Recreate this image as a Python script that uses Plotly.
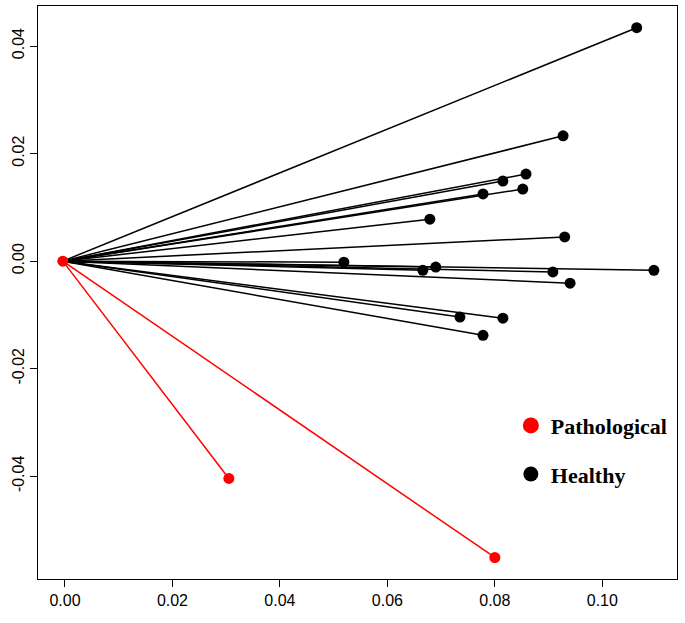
import plotly.graph_objects as go

# Origin (common start point of all segments)
origin_x = -0.0004
origin_y = 0.0

# Healthy endpoints
healthy_x = [0.1064, 0.0927, 0.0858, 0.0815, 0.0852, 0.0778, 0.0679, 0.0930, 0.0519,
             0.0666, 0.0690, 0.0908, 0.1096, 0.0940, 0.0735, 0.0815, 0.0778]
healthy_y = [0.0434, 0.0233, 0.0162, 0.0149, 0.0134, 0.0125, 0.0078, 0.0045, -0.0002,
             -0.0017, -0.0011, -0.0020, -0.0017, -0.0041, -0.0104, -0.0106, -0.0138]

# Pathological endpoints
patho_x = [0.0305, 0.0800]
patho_y = [-0.0404, -0.0551]

x_ticks = [0.00, 0.02, 0.04, 0.06, 0.08, 0.10]
x_ticklabels = ["0.00", "0.02", "0.04", "0.06", "0.08", "0.10"]
y_ticks = [-0.04, -0.02, 0.00, 0.02, 0.04]
y_ticklabels = ["-0.04", "-0.02", "0.00", "0.02", "0.04"]

legend_names = ["Pathological", "Healthy"]
RED = "#FF0000"
BLACK = "#000000"


def segments(xs, ys):
    sx, sy = [], []
    for x, y in zip(xs, ys):
        sx += [origin_x, x, None]
        sy += [origin_y, y, None]
    return sx, sy


fig = go.Figure()

hx, hy = segments(healthy_x, healthy_y)
fig.add_trace(go.Scatter(x=hx, y=hy, mode="lines", line=dict(color=BLACK, width=1.5),
                         showlegend=False, hoverinfo="skip"))
px_, py_ = segments(patho_x, patho_y)
fig.add_trace(go.Scatter(x=px_, y=py_, mode="lines", line=dict(color=RED, width=1.5),
                         showlegend=False, hoverinfo="skip"))

fig.add_trace(go.Scatter(x=healthy_x, y=healthy_y, mode="markers",
                         marker=dict(color=BLACK, size=11), showlegend=False))
fig.add_trace(go.Scatter(x=patho_x + [origin_x], y=patho_y + [origin_y], mode="markers",
                         marker=dict(color=RED, size=11), showlegend=False))

# legend entries
fig.add_trace(go.Scatter(x=[None], y=[None], mode="markers", name=legend_names[0],
                         legendgroup="p", marker=dict(color=RED, size=17)))
fig.add_trace(go.Scatter(x=[None], y=[None], mode="markers", name=legend_names[1],
                         legendgroup="h", marker=dict(color=BLACK, size=15)))

axis_common = dict(showline=True, linecolor="black", linewidth=1, mirror=True,
                   ticks="outside", ticklen=7, tickwidth=1, tickcolor="black",
                   showgrid=False, zeroline=False, automargin=False,
                   tickfont=dict(family="Liberation Sans, Arial", size=16, color="black"))

fig.update_layout(
    width=685, height=623,
    margin=dict(l=38, r=8, t=6, b=44),
    plot_bgcolor="white", paper_bgcolor="white",
    xaxis=dict(range=[-0.00502, 0.1139], tickvals=x_ticks, ticktext=x_ticklabels, **axis_common),
    yaxis=dict(range=[-0.0591, 0.04744], tickvals=y_ticks, ticktext=y_ticklabels,
               tickangle=-90, **axis_common),
    legend=dict(x=0.740, y=0.225, xanchor="left", yanchor="middle",
                traceorder="grouped", tracegroupgap=17,
                bgcolor="rgba(0,0,0,0)",
                font=dict(family="Liberation Serif, Times New Roman", size=22, color="black",
                          weight="bold")),
)

fig.write_html("out.html", config={"displayModeBar": False})

# remove the browser's default page margin so the figure sits at (0, 0)
with open("out.html", "r", encoding="utf-8") as f:
    html = f.read()
html = html.replace("<head>", "<head><style>html,body{margin:0;padding:0;}</style>", 1)
with open("out.html", "w", encoding="utf-8") as f:
    f.write(html)
